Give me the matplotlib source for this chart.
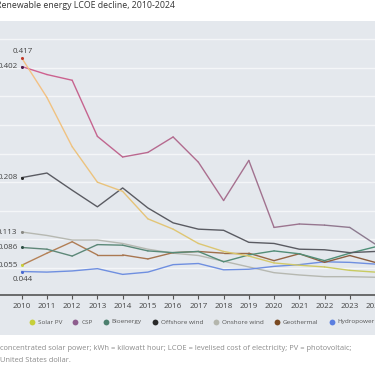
import numpy as np
import matplotlib
matplotlib.use("Agg")
import matplotlib.pyplot as plt
from matplotlib.collections import LineCollection
from matplotlib.colors import to_rgb

plt.rcParams['font.family'] = ['Open Sans', 'DejaVu Sans']

years = list(range(2010, 2025))
solar_pv = [0.417, 0.348, 0.262, 0.200, 0.184, 0.136, 0.118, 0.093, 0.079, 0.071, 0.059, 0.055, 0.052, 0.046, 0.043]
csp = [0.402, 0.388, 0.378, 0.280, 0.244, 0.252, 0.279, 0.235, 0.168, 0.238, 0.121, 0.127, 0.125, 0.121, 0.092]
offshore = [0.208, 0.216, 0.186, 0.157, 0.190, 0.155, 0.129, 0.118, 0.116, 0.095, 0.093, 0.083, 0.082, 0.077, 0.079]
onshore = [0.113, 0.107, 0.099, 0.099, 0.093, 0.083, 0.076, 0.072, 0.062, 0.052, 0.042, 0.038, 0.035, 0.035, 0.034]
bioenergy = [0.086, 0.083, 0.071, 0.091, 0.090, 0.080, 0.077, 0.079, 0.061, 0.073, 0.080, 0.075, 0.063, 0.076, 0.087]
geothermal = [0.055, 0.076, 0.096, 0.073, 0.073, 0.066, 0.077, 0.079, 0.076, 0.076, 0.063, 0.075, 0.060, 0.072, 0.060]
hydropower = [0.044, 0.043, 0.045, 0.049, 0.039, 0.043, 0.056, 0.058, 0.047, 0.048, 0.053, 0.056, 0.061, 0.060, 0.057]

legend_labels = ["Solar PV", "CSP", "Bioenergy", "Offshore wind", "Onshore wind", "Geothermal", "Hydropower"]
legend_colors = ["#c6cf3a", "#8e5e8e", "#4c7f6e", "#2a2a2a", "#b4b6ad", "#7a4a22", "#5b7fe0"]

W, H = 375, 366
fig = plt.figure(figsize=(W / 100, H / 100), dpi=100)
fig.patch.set_facecolor("white")

bg = "#e4e8ed"
rect = plt.Rectangle((0, 1 - 335 / H), 1, (335 - 21) / H,
                     transform=fig.transFigure, facecolor=bg, edgecolor="none", zorder=-10)
fig.patches.append(rect)

ax = fig.add_axes([0, 1 - 295 / H, 1, (295 - 21) / H], zorder=1)
ax.set_facecolor(bg)
ax.set_xlim(2009.14, 2023.79)
ax.set_ylim(0.003, 0.4815)
for s in ["top", "right", "left"]:
    ax.spines[s].set_visible(False)
ax.spines["bottom"].set_color("#555555")
ax.spines["bottom"].set_linewidth(1.2)
ax.set_yticks(np.arange(0.05, 0.46, 0.05))
ax.yaxis.grid(True, color="#f4f6f8", linewidth=1.0)
ax.tick_params(axis="y", left=False, labelleft=False)
ax.set_xticks(years)
ax.set_xticklabels([str(y) for y in years])
ax.tick_params(axis="x", colors="#555555", labelsize=5.8, length=3, width=0.8, pad=3, labelcolor="#444444")
ax.set_axisbelow(True)


def grad_line(y, c0, c1, lw=1.0):
    x = np.array(years, dtype=float)
    y = np.array(y)
    pts = np.array([x, y]).T.reshape(-1, 1, 2)
    segs = np.concatenate([pts[:-1], pts[1:]], axis=1)
    n = len(segs)
    a, b = np.array(to_rgb(c0)), np.array(to_rgb(c1))
    cols = [a + (b - a) * (i / (n - 1)) for i in range(n)]
    lc = LineCollection(segs, colors=cols, linewidths=lw, capstyle="round", joinstyle="round", zorder=3)
    ax.add_collection(lc)


ax.plot(years, onshore, color="#b6b8b1", lw=1.0, zorder=3)
ax.plot(years, hydropower, color="#6f8fe0", lw=1.0, zorder=3)
grad_line(geothermal, "#b58258", "#8a5c3e")
grad_line(bioenergy, "#5f8778", "#4e8f77")
ax.plot(years, offshore, color="#5a5b62", lw=1.0, zorder=3)
grad_line(csp, "#d0608f", "#8c7a8f")
grad_line(solar_pv, "#f3c184", "#c8cb60")

dot_cols = ["#c0392b", "#4a1f4a", "#2f4f45", "#2a2a2a", "#8a8a85", "#c8cf3a", "#4a6ad0"]
first = [solar_pv[0], csp[0], bioenergy[0], offshore[0], onshore[0], geothermal[0], hydropower[0]]
for v, c in zip(first, dot_cols):
    ax.plot([years[0]], [v], "o", ms=2.2, color=c, mec="none", zorder=5, clip_on=False)

lab_kw = dict(fontsize=5.8, color="#444444", zorder=6, annotation_clip=False)
ax.annotate(f"{solar_pv[0]:.3f}", (years[0], solar_pv[0]), xytext=(1, 2), textcoords="offset points",
            ha="center", va="bottom", **lab_kw)
for v in [csp[0], offshore[0], onshore[0], bioenergy[0], geothermal[0]]:
    ax.annotate(f"{v:.3f}", (years[0], v), xytext=(-3, 0), textcoords="offset points",
                ha="right", va="center", **lab_kw)
ax.annotate(f"{hydropower[0]:.3f}", (years[0], hydropower[0]), xytext=(1, -3), textcoords="offset points",
            ha="center", va="top", **lab_kw)

# legend (manual row)
fig.canvas.draw()
r = fig.canvas.get_renderer()
x = 32.0
ly = 1 - 322 / H
for lab, c in zip(legend_labels, legend_colors):
    fig.add_artist(plt.Line2D([x / W], [ly], marker="o", ms=4.2, color=c, mec="none",
                              transform=fig.transFigure, ls="none"))
    t = fig.text((x + 6) / W, ly, lab, fontsize=4.6, color="#555555", ha="left", va="center")
    w = t.get_window_extent(r).width
    x = x + 6 + w + 13.0

fig.text(-4 / W, 1 - 6 / H, "Renewable energy LCOE decline, 2010-2024", fontsize=6.3, color="#333333",
         ha="left", va="center")
fig.text(0, 1 - 348 / H, "concentrated solar power; kWh = kilowatt hour; LCOE = levelised cost of electricity; PV = photovoltaic;",
         fontsize=5.45, color="#8a8a8a", ha="left", va="center")
fig.text(0, 1 - 360 / H, "United States dollar.", fontsize=5.45, color="#8a8a8a", ha="left", va="center")

fig.savefig("out.png", dpi=100, facecolor="white")
